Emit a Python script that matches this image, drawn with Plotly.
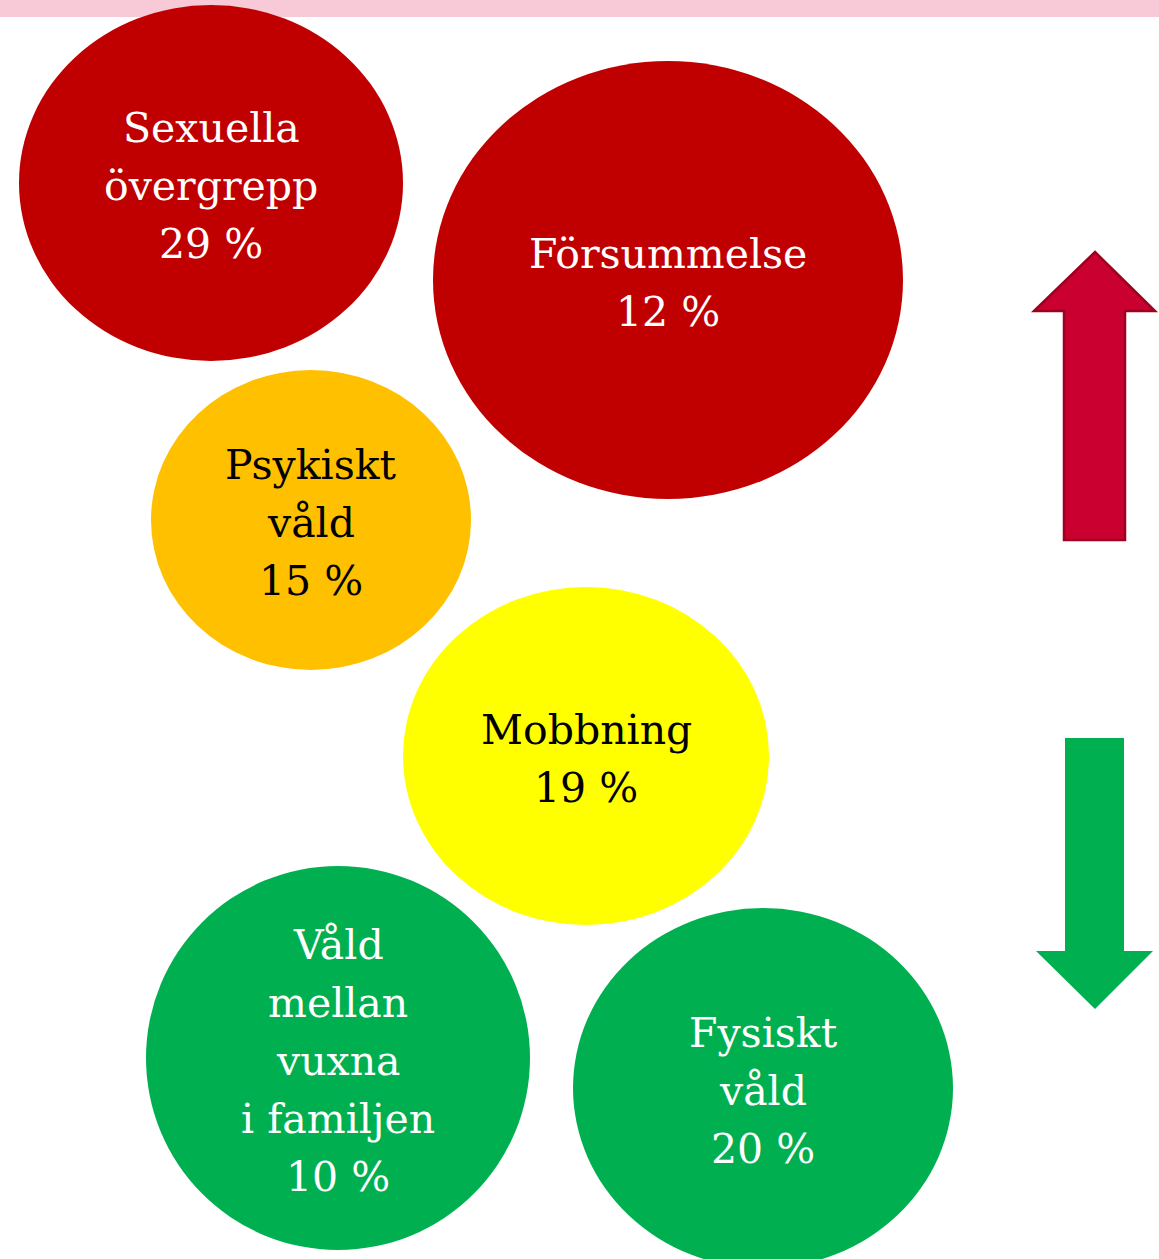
import plotly.graph_objects as go

# ---- data ----
categories = [
    ["Sexuella", "övergrepp"],
    ["Försummelse"],
    ["Psykiskt", "våld"],
    ["Mobbning"],
    ["Våld", "mellan", "vuxna", "i familjen"],
    ["Fysiskt", "våld"],
]
percentages = [29, 12, 15, 19, 10, 20]
fill_colors = ["#C00000", "#C00000", "#FFC000", "#FFFF00", "#00B050", "#00B050"]
text_colors = ["white", "white", "black", "black", "white", "white"]

# ---- layout geometry (pixels in figure space) ----
centers = [(211, 183), (668, 280), (311, 520), (586, 756), (338, 1058), (763, 1088)]
radii = [(192, 178), (235, 219), (160, 150), (183, 169), (192, 192), (190, 180)]

W, H = 1159, 1259
LINE = 58
FONT = "DejaVu Serif"
FSIZE = 41
TEXT_SHIFT = 3

fig = go.Figure()
fig.add_trace(go.Scatter(x=[0, W], y=[0, H], mode="markers",
                         marker=dict(opacity=0), hoverinfo="skip", showlegend=False))

shapes = []
# pink header band
shapes.append(dict(type="rect", xref="x", yref="y", x0=0, x1=W, y0=0, y1=17,
                   fillcolor="#F8C9D6", line=dict(width=0), layer="below"))

annotations = []
for cat, pct, fc, tc, (cx, cy), (rx, ry) in zip(categories, percentages, fill_colors,
                                                   text_colors, centers, radii):
    shapes.append(dict(type="circle", xref="x", yref="y",
                       x0=cx - rx, x1=cx + rx, y0=cy - ry, y1=cy + ry,
                       fillcolor=fc, line=dict(width=0), layer="above"))
    lines = cat + [f"{pct} %"]
    n = len(lines)
    for i, t in enumerate(lines):
        annotations.append(dict(x=cx, y=cy + TEXT_SHIFT + (i - (n - 1) / 2) * LINE,
                                xref="x", yref="y",
                                text=t, showarrow=False, xanchor="center", yanchor="middle",
                                font=dict(family=FONT, size=FSIZE, color=tc)))

# up arrow (red)
up = "M 1095 252 L 1155 311 L 1125 311 L 1125 540 L 1064 540 L 1064 311 L 1034 311 Z"
shapes.append(dict(type="path", xref="x", yref="y", path=up,
                   fillcolor="#CA0030", line=dict(color="#9E0020", width=2.5), layer="above"))
# down arrow (green)
down = "M 1065 738 L 1124 738 L 1124 951 L 1153 951 L 1095 1009 L 1036 951 L 1065 951 Z"
shapes.append(dict(type="path", xref="x", yref="y", path=down,
                   fillcolor="#00B050", line=dict(width=0), layer="above"))

fig.update_layout(
    width=W, height=H,
    margin=dict(l=0, r=0, t=0, b=0),
    paper_bgcolor="white", plot_bgcolor="white",
    xaxis=dict(range=[0, W], visible=False, fixedrange=True),
    yaxis=dict(range=[H, 0], visible=False, fixedrange=True),
    shapes=shapes, annotations=annotations, showlegend=False,
)

fig.write_html("out.html", config=dict(displayModeBar=False),
               post_script="document.body.style.margin='0';document.body.style.overflow='hidden';")
